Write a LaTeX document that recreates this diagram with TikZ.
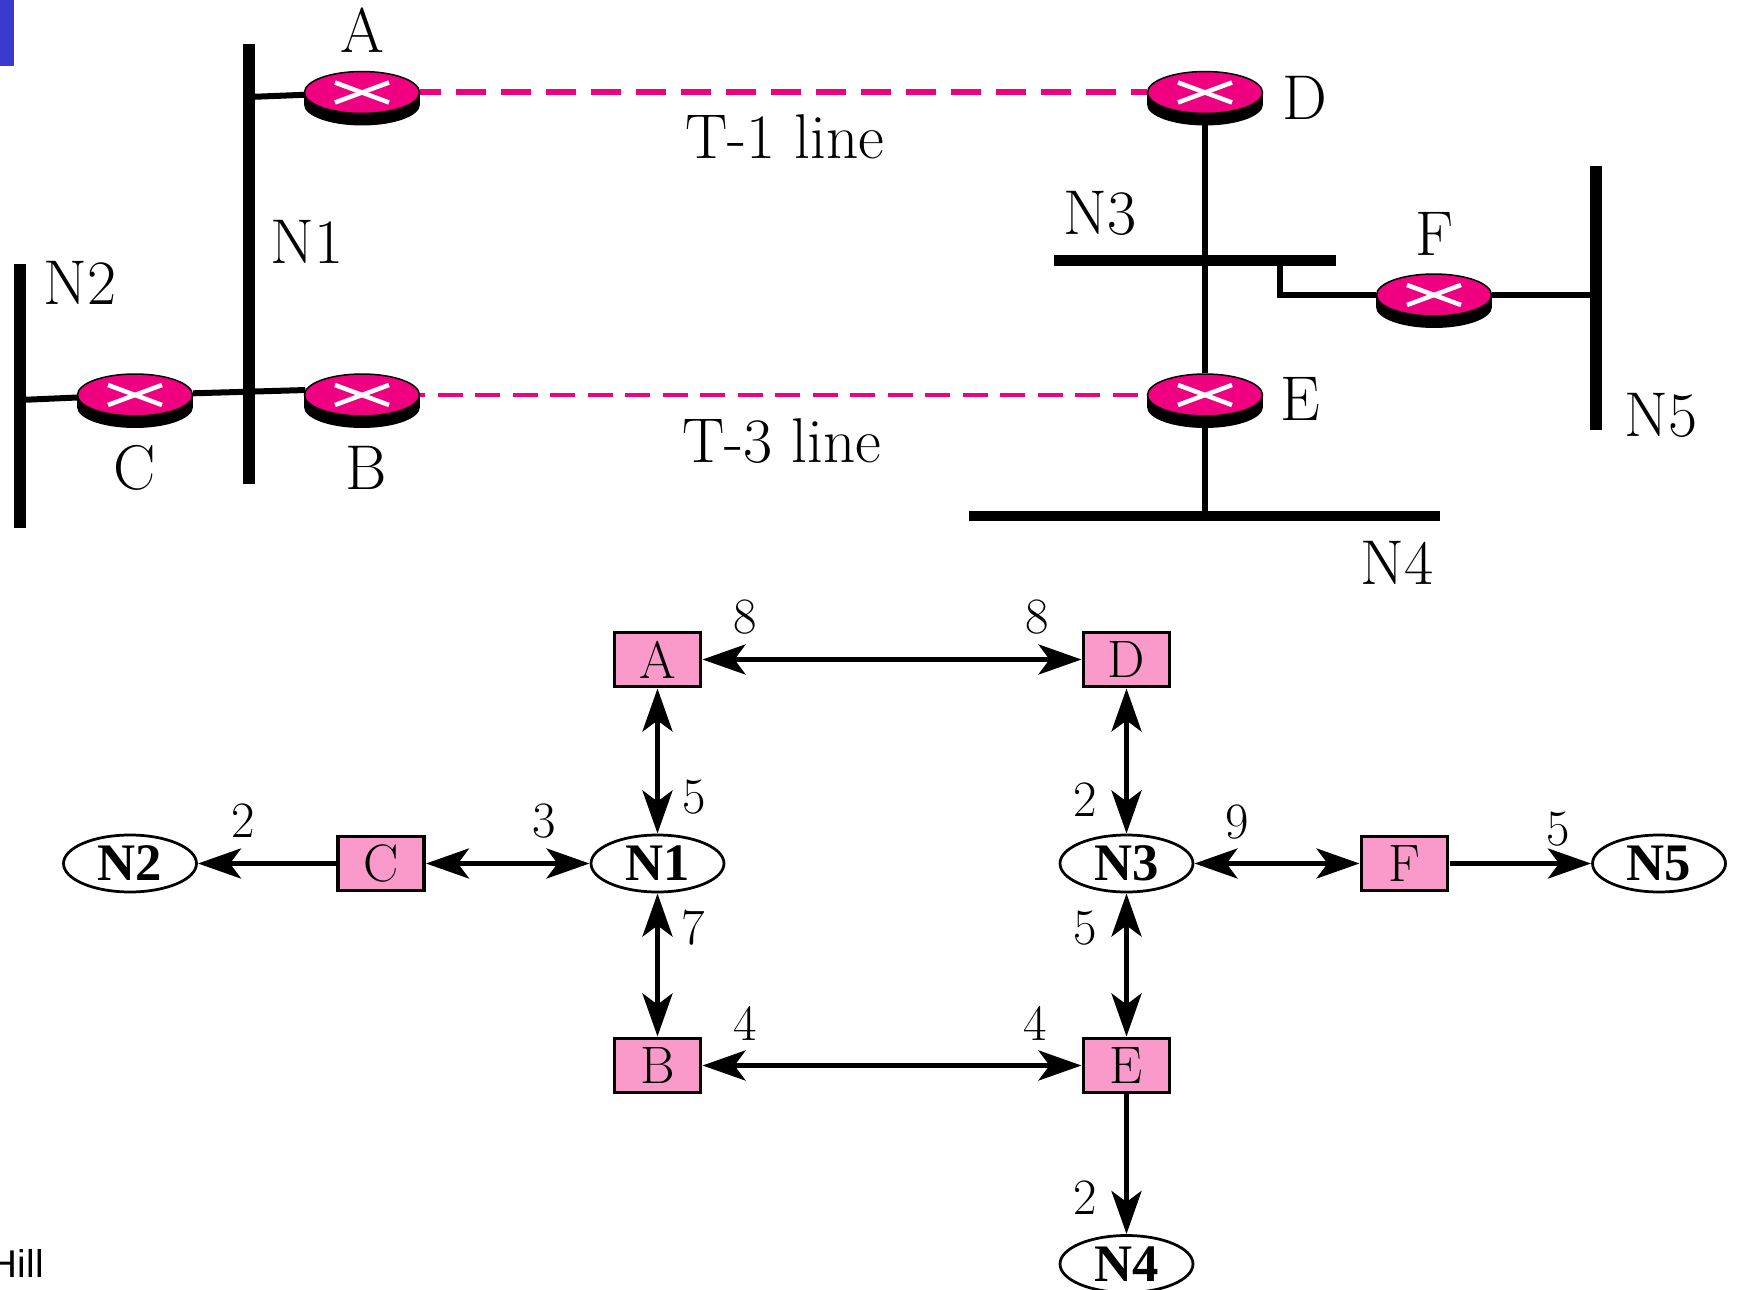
\documentclass[tikz,border=0pt]{standalone}
\usepackage{fontspec}
\usepackage{xcolor}
\usetikzlibrary{arrows.meta, backgrounds, shapes.geometric}
\newfontfamily\ovalfont{Liberation Serif}
\newfontfamily\footfont{Liberation Sans}
\definecolor{routerpink}{HTML}{EE0080}
\definecolor{boxpink}{HTML}{FA9ACB}
\definecolor{cornerblue}{HTML}{3A3ACC}

\begin{document}
\begin{tikzpicture}[
  x=0.02cm, y=-0.02cm,
  >={Stealth[length=0.86cm, width=0.6cm, inset=0.22cm]},
  router/.style={ellipse, draw=black, line width=0.03cm, fill=routerpink,
    minimum width=2.3cm, minimum height=0.84cm, inner sep=0pt},
  cross/.style={white, line width=0.09cm},
  bus/.style={rectangle, fill=black, inner sep=0pt},
  wire/.style={line width=0.12cm, black},
  trunkA/.style={routerpink, line width=0.12cm, dash pattern=on 0.6cm off 0.3cm, dash phase=0.18cm},
  trunkB/.style={routerpink, line width=0.09cm, dash pattern=on 0.5cm off 0.25cm, dash phase=0.4cm},
  lbl/.style={font=\fontsize{36}{42}\selectfont, inner sep=0pt},
  rtrbox/.style={draw=black, line width=0.07cm, fill=boxpink, minimum width=1.72cm,
    minimum height=1.08cm, inner sep=0pt, outer sep=0.04cm, font=\fontsize{30}{34}\selectfont},
  netoval/.style={ellipse, draw=black, line width=0.055cm, fill=white, minimum width=2.66cm,
    minimum height=1.14cm, inner sep=0pt, outer sep=0.03cm,
    font=\ovalfont\bfseries\fontsize{30}{34}\selectfont},
  link/.style={line width=0.1cm, black},
  weight/.style={font=\fontsize{29}{33}\selectfont, inner sep=0pt}
]
\useasboundingbox (0,0) rectangle (1738,1290);

% Corner mark and cut-off footer
\fill[cornerblue] (0,0) rectangle (14,66);
\node[anchor=base east, inner sep=0pt, font=\footfont\fontsize{22}{24}\selectfont] (foot) at (44,1277) {Hill};

% Networks
\foreach \nm/\cx/\cy/\w/\h in {N1/249/264/12/440, N2/20/396/12/264, N3/1195/260.5/282/11,
    N4/1204.5/516/471/10.5, N5/1596/298/12/264} {
  \node[bus, minimum width=\w*0.02cm, minimum height=\h*0.02cm] (bus\nm) at (\cx,\cy) {};
}

% Routers
\foreach \nm/\px/\py in {A/362/92.5, B/362/395, C/135/395, D/1205/92.5, E/1205/395, F/1434/295} {
  \fill[black] (\px-58,\py) rectangle (\px+58,\py+12);
  \fill[black] (\px,\py+12) ellipse [x radius=58, y radius=21];
  \node[router] (rt\nm) at (\px,\py) {};
  \draw[cross] (\px-27,\py-10) -- (\px+27,\py+10);
  \draw[cross] (\px-27,\py+10) -- (\px+27,\py-10);
}

% Wires
\coordinate (tapA) at (249,97);
\coordinate (tapC) at (20,400);
\coordinate (tapF) at (1280,260);
\begin{scope}[on background layer]
  \draw[wire] (tapA) -- (rtA);
  \draw[wire] (tapC) -- (rtC);
  \draw[wire] (rtC) -- (rtB.175);
  \draw[wire] (rtD) -- (rtE);
  \draw[wire] (rtE) -- (rtE |- busN4);
  \draw[wire] (tapF) -- (tapF |- rtF) -- (rtF);
  \draw[wire] (rtF) -- (rtF -| busN5);
  \draw[trunkA] (rtA.east) -- (rtD.west);
  \draw[trunkB] (rtB.east) -- (rtE.west);
\end{scope}

% Labels of the top drawing
\foreach \nm/\x/\y/\txt in {a/362/30.5/A, b/366/468/B, c/135/468/C, d/1305/97.5/D, e/1300/399/E,
    f/1435/234/F, n1/307/241.5/N1, n2/80/283/N2, n3/1100/213/N3, n4/1397/563/N4, n5/1661/415/N5,
    ta/785/137/T-1 line, tb/782/441/T-3 line} {
  \node[lbl] (lbl\nm) at (\x,\y) {\txt};
}

% Graph
\foreach \nm/\x/\y in {A/657.5/659.5, B/657.5/1065.5, C/381/863.5, D/1126.5/659.5, E/1126.5/1065.5, F/1404.5/863.5} {
  \node[rtrbox] (box\nm) at (\x,\y) {\nm};
}
\foreach \nm/\x/\y in {N1/657.5/863.5, N2/130/863.5, N3/1126.5/863.5, N4/1126.5/1264, N5/1659/863.5} {
  \node[netoval] (net\nm) at (\x,\y) {\nm};
}

% Links
\foreach \a/\b in {boxA/boxD, boxB/boxE, boxA/netN1, boxB/netN1, boxC/netN1,
    boxD/netN3, boxE/netN3, boxF/netN3} {
  \draw[link, <->] (\a) -- (\b);
}
\foreach \a/\b in {boxC/netN2, boxF/netN5, boxE/netN4} {
  \draw[link, ->] (\a) -- (\b);
}

% Costs
\foreach \x/\y/\w [count=\i] in {745/617/8, 1037/617/8, 694/797/5, 1085/800/2, 243/821/2, 544/821/3,
    1237/822/9, 1558/829/5, 693/928/7, 1085/928/5, 745/1023/4, 1035/1023/4, 1085/1198/2} {
  \node[weight] (cost\i) at (\x,\y) {\w};
}

\end{tikzpicture}
\end{document}
